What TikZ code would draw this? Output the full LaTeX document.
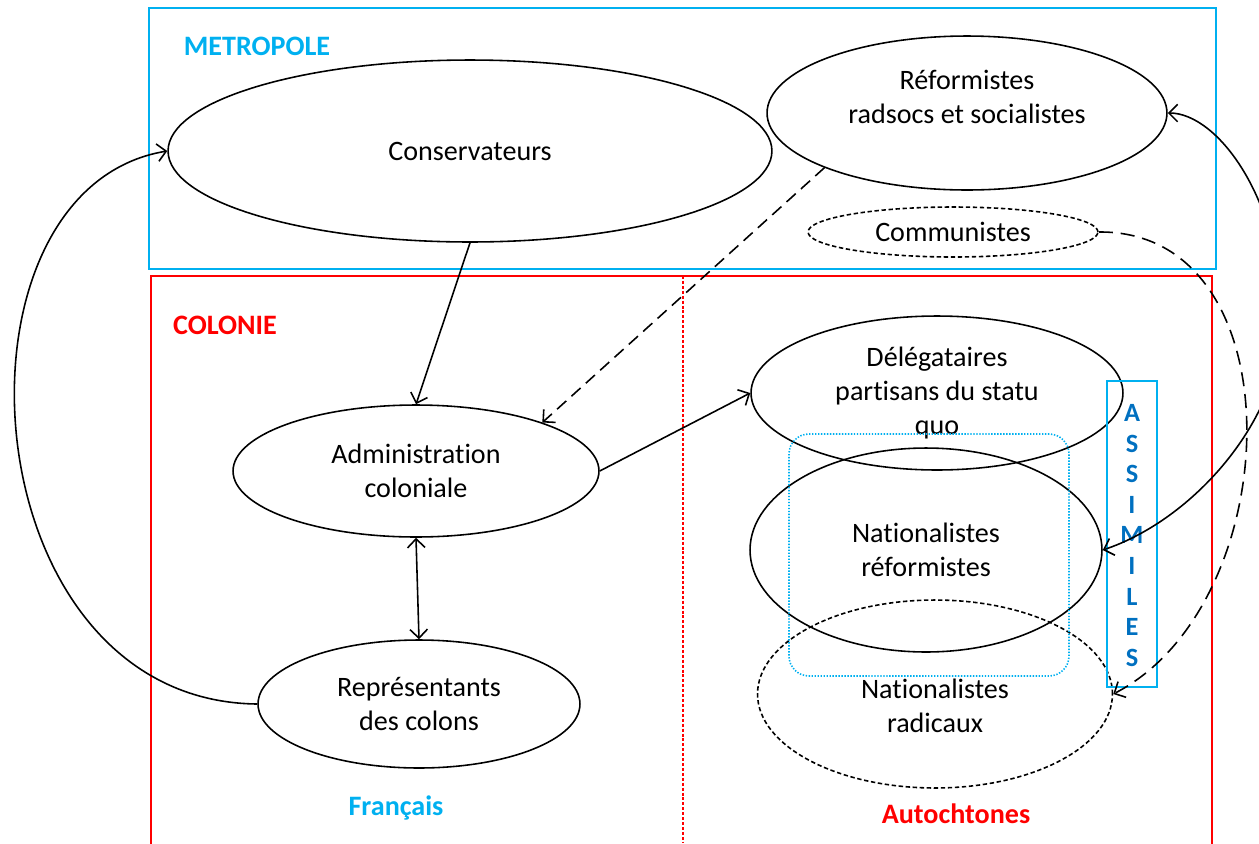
\documentclass[tikz,border=0pt]{standalone}
\usepackage{fontspec}
\setmainfont{Carlito}[Ligatures=NoCommon]
\usepackage{xcolor}
\usetikzlibrary{shapes.geometric,calc,arrows.meta}
\definecolor{metro}{RGB}{0,176,240}
\definecolor{assim}{RGB}{0,112,192}
\tikzset{
  >={Straight Barb[length=5pt,width=10pt]},
  party/.style={ellipse,draw,line width=0.9pt,inner sep=0pt,align=center},
  txt/.style={align=center},
  title/.style={font=\fontsize{16}{19.4}\bfseries\selectfont},
}

\begin{document}
\begin{tikzpicture}[x=0.02cm,y=-0.02cm,line width=0.9pt,font=\fontsize{16}{19.4}\selectfont]
\useasboundingbox (0,0) rectangle (1259,843);
\clip (0,0) rectangle (1259,843);
\draw[metro,line width=1pt](149,8) rectangle(1216,269);
\draw[red,line width=1pt](151,870)--(151,276)--(1212,276)--(1212,870);
\draw[red,dash pattern=on 1.7pt off 1.1pt](683,276)--(683,843);
\node[metro,title] (metro) at (257,46) {METROPOLE};
\node[red,title] (colonie) at (225,325) {COLONIE};
\node[metro,title] (francais) at (396,808) {Français};
\node[red,title] (autoch) at (956,814) {Autochtones};

\node[party,minimum width=12.08cm,minimum height=3.64cm] (cons) at (470,151) {Conservateurs};
\node[party,minimum width=8cm,minimum height=3.08cm] (ref) at (967,113) {};
\node[txt] (reftxt) at ($(ref)+(0,-16)$) {Réformistes\\radsocs et socialistes};
\node[party,dash pattern=on 2.5pt off 1.5pt,minimum width=5.8cm,minimum height=1cm] (com) at (953,232) {Communistes};
\node[party,minimum width=7.32cm,minimum height=2.64cm] (adm) at (416,471) {Administration\\coloniale};
\node[party,minimum width=6.44cm,minimum height=2.56cm] (rep) at (419,704) {Représentants\\des colons};
\node[party,minimum width=7.44cm,minimum height=3.08cm] (del) at (937,393) {Délégataires\\partisans du statu\\quo};
\node[party,minimum width=7.04cm,minimum height=4.08cm] (natref) at (926,550) {Nationalistes\\réformistes};
\node[party,dash pattern=on 2.5pt off 1.5pt,minimum width=7.1cm,minimum height=3.76cm] (rad) at (935,694) {};
\node[txt] (radtxt) at ($(rad)+(0,12)$) {Nationalistes\\radicaux};

\draw[metro,dash pattern=on 0.8pt off 0.9pt,rounded corners=0.4cm](789,434) rectangle(1069,676);
\draw[metro,line width=1pt](1107,381) rectangle(1157,687);
\foreach \letter [count=\i from 0] in {A,S,S,I,M,I,L,E,S}{
\node[assim,font=\fontsize{15}{16}\bfseries\selectfont] (as\i) at (1132,{413+30.6*\i}) {\letter};
}

\draw[->](cons.south)--(adm.north);
\draw[->,dash pattern=on 7pt off 4pt](ref.201)--(adm.21);
\draw[->](adm.east)--(del.west);
\draw[<->](adm.south)--(rep.north);
\draw[->](rep.west) .. controls +(-290,-3) and +(-230,38) .. (cons.west);
\coordinate (bend) at (1282,320);
\draw[<->](ref.east) .. controls +(50,0) and +(0,-120) .. (bend) .. controls +(0,100) and +(90,-30) .. (natref.east);
\draw[->,dash pattern=on 8pt off 4.5pt](com.east) .. controls +(200,-2) and +(175,-90) .. (rad.east);
\end{tikzpicture}
\end{document}
